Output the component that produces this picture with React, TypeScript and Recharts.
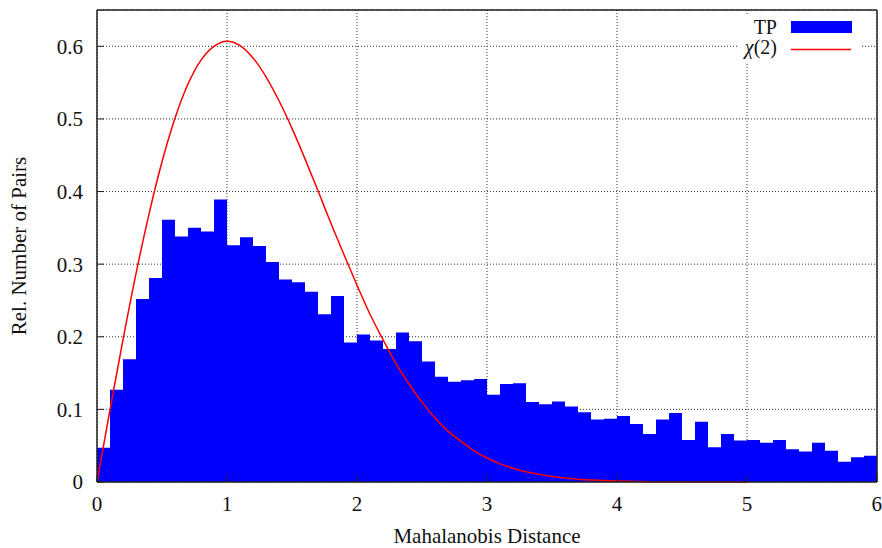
import { ComposedChart, Area, Line, XAxis, YAxis, CartesianGrid, Legend, Label } from "recharts";

// histogram bin edges (Mahalanobis distance)
const binEdges = [
  0, 0.1, 0.2, 0.3, 0.4, 0.5, 0.6, 0.7, 0.8, 0.9,
  1, 1.1, 1.2, 1.3, 1.4, 1.5, 1.6, 1.7, 1.8, 1.9,
  2, 2.1, 2.2, 2.3, 2.4, 2.5, 2.6, 2.7, 2.8, 2.9,
  3, 3.1, 3.2, 3.3, 3.4, 3.5, 3.6, 3.7, 3.8, 3.9,
  4, 4.1, 4.2, 4.3, 4.4, 4.5, 4.6, 4.7, 4.8, 4.9,
  5, 5.1, 5.2, 5.3, 5.4, 5.5, 5.6, 5.7, 5.8, 5.9, 6,
];

// TP histogram, one value per bin
const tpShare = [
  0.047, 0.127, 0.169, 0.252, 0.281, 0.361, 0.338, 0.35, 0.345, 0.389,
  0.326, 0.337, 0.325, 0.303, 0.279, 0.275, 0.262, 0.231, 0.256, 0.192,
  0.203, 0.195, 0.183, 0.206, 0.194, 0.166, 0.145, 0.138, 0.14, 0.142,
  0.12, 0.135, 0.136, 0.11, 0.107, 0.111, 0.104, 0.096, 0.086, 0.087,
  0.091, 0.08, 0.066, 0.086, 0.095, 0.058, 0.083, 0.048, 0.066, 0.057,
  0.058, 0.054, 0.058, 0.045, 0.042, 0.054, 0.043, 0.028, 0.034, 0.036,
];

// chi(2) reference curve, read at the bin edges up to 5
const chi2Curve = [
  0, 0.0995, 0.196, 0.287, 0.369, 0.441, 0.501, 0.548, 0.581, 0.6,
  0.607, 0.601, 0.584, 0.558, 0.525, 0.487, 0.445, 0.401, 0.356, 0.313,
  0.271, 0.231, 0.196, 0.163, 0.135, 0.11, 0.088, 0.07, 0.056, 0.043,
  0.033, 0.025, 0.019, 0.014, 0.0105, 0.0077, 0.0055, 0.0039, 0.0028, 0.0019,
  0.0013, 0.0009, 0.0006, 0.0004, 0.0003, 0.0002, 0.0001, 0.0001, 0, 0, 0,
];

const xTicks = [0, 1, 2, 3, 4, 5, 6];
const yTicks = [0, 0.1, 0.2, 0.3, 0.4, 0.5, 0.6];

// last edge repeats the last bin so the step area closes at x = 6
const data = binEdges.map((x, i) => ({
  x,
  tp: tpShare[Math.min(i, tpShare.length - 1)],
  chi: i < chi2Curve.length ? chi2Curve[i] : null,
}));

const FONT = "'Liberation Serif', 'Times New Roman', serif";
const tickStyle = { fill: "#111", fontSize: 21, fontFamily: FONT };
const frame = { stroke: "#222", strokeWidth: 1.5 };

const LegendBox = () => (
  <svg width={124} height={46} style={{ display: "block", background: "#fff", overflow: "visible" }}>
    <text x={39} y={18} textAnchor="end" fontSize={20} fontFamily={FONT} fill="#111">
      TP
    </text>
    <rect x={53} y={5} width={61} height={12} fill="#0000ff" />
    <text x={39} y={38} textAnchor="end" fontSize={20} fontFamily={FONT} fill="#111">
      <tspan fontStyle="italic">χ</tspan>(2)
    </text>
    <line x1={53} x2={113} y1={33.5} y2={33.5} stroke="#ff0000" strokeWidth={1.5} />
  </svg>
);

const App = () => {
  return (
    <div style={{ position: "absolute", left: 0, top: 0, width: 882, height: 548, background: "#fff" }}>
      <ComposedChart width={882} height={548} data={data} margin={{ top: 0, right: 0, bottom: 0, left: 0 }}>
        <CartesianGrid stroke="#333" strokeDasharray="1 2" />
        <Area
          type="stepAfter"
          dataKey="tp"
          fill="#0000ff"
          fillOpacity={1}
          stroke="none"
          isAnimationActive={false}
        />
        <Line
          type="monotone"
          dataKey="chi"
          stroke="#ff0000"
          strokeWidth={1.5}
          dot={false}
          activeDot={false}
          isAnimationActive={false}
        />
        <XAxis
          dataKey="x"
          type="number"
          domain={[0, 6]}
          ticks={xTicks}
          height={66}
          axisLine={frame}
          tickLine={{ stroke: "#222", strokeWidth: 1 }}
          tickSize={-7}
          tickMargin={21}
          tick={tickStyle}
        >
          <Label
            content={({ viewBox }: any) => (
              <text
                x={viewBox.x + viewBox.width / 2}
                y={543}
                textAnchor="middle"
                fontSize={21}
                fontFamily={FONT}
                fill="#111"
              >
                Mahalanobis Distance
              </text>
            )}
          />
        </XAxis>
        <XAxis
          xAxisId="top"
          orientation="top"
          dataKey="x"
          type="number"
          domain={[0, 6]}
          ticks={xTicks}
          height={10}
          axisLine={frame}
          tickLine={{ stroke: "#222", strokeWidth: 1 }}
          tickSize={-7}
          tick={false}
        />
        <YAxis
          type="number"
          domain={[0, 0.65]}
          ticks={yTicks}
          width={97}
          axisLine={frame}
          tickLine={{ stroke: "#222", strokeWidth: 1 }}
          tickSize={-7}
          tickMargin={21}
          tick={tickStyle}
          tickFormatter={(v: number) => (v === 0 ? "0" : v.toFixed(1))}
        >
          <Label
            content={({ viewBox }: any) => {
              const cy = viewBox.y + viewBox.height / 2;
              return (
                <text
                  x={26}
                  y={cy}
                  transform={`rotate(-90, 26, ${cy})`}
                  textAnchor="middle"
                  fontSize={21}
                  fontFamily={FONT}
                  fill="#111"
                >
                  Rel. Number of Pairs
                </text>
              );
            }}
          />
        </YAxis>
        <YAxis
          yAxisId="right"
          orientation="right"
          type="number"
          domain={[0, 0.65]}
          ticks={yTicks}
          width={5}
          axisLine={frame}
          tickLine={{ stroke: "#222", strokeWidth: 1 }}
          tickSize={-7}
          tick={false}
        />
        <Legend
          layout="horizontal"
          verticalAlign="middle"
          align="center"
          content={() => <LegendBox />}
          wrapperStyle={{ left: 738, top: 16, width: 124, height: 46 }}
        />
      </ComposedChart>
    </div>
  );
};

export default App;
